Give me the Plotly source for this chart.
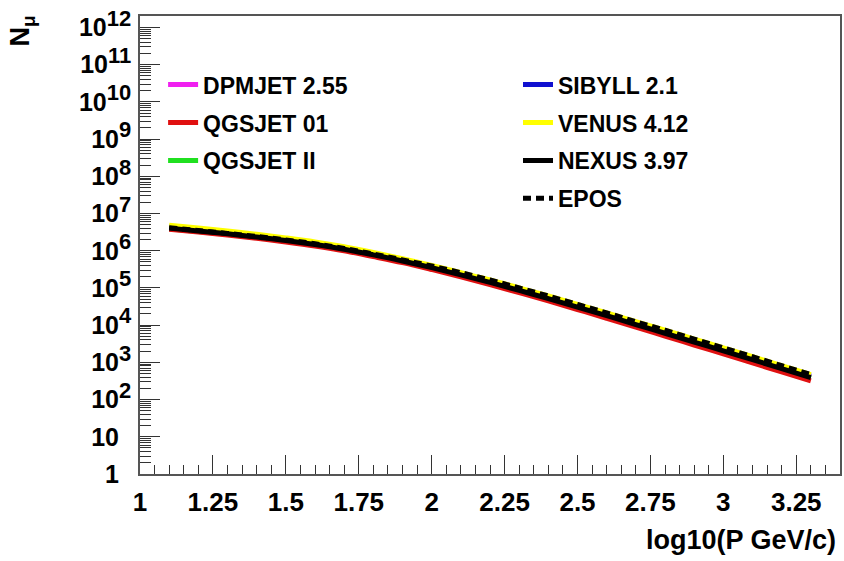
import plotly.graph_objects as go

# ---- data ----
log10_p = [1.1, 1.2, 1.3, 1.4, 1.5, 1.6, 1.7, 1.8, 1.9, 2.0, 2.1, 2.2,
           2.3, 2.4, 2.5, 2.6, 2.7, 2.8, 2.9, 3.0, 3.1, 3.2, 3.3]

dpmjet = [4.25e6, 3.58e6, 2.99e6, 2.45e6, 1.98e6, 1.54e6, 1.15e6, 8.10e5, 5.56e5, 3.67e5,
          2.36e5, 1.48e5, 9.01e4, 5.43e4, 3.21e4, 1.88e4, 1.09e4, 6.36e3, 3.69e3, 2.14e3,
          1.24e3, 711, 410]
qgsjet01 = [3.79e6, 3.19e6, 2.64e6, 2.16e6, 1.72e6, 1.34e6, 1.00e6, 6.98e5, 4.79e5, 3.13e5,
            2.00e5, 1.24e5, 7.50e4, 4.52e4, 2.64e4, 1.53e4, 8.85e3, 5.10e3, 2.93e3, 1.70e3,
            970, 552, 319]
qgsjetII = [3.92e6, 3.30e6, 2.76e6, 2.26e6, 1.83e6, 1.42e6, 1.06e6, 7.48e5, 5.13e5, 3.39e5,
            2.17e5, 1.36e5, 8.32e4, 5.01e4, 2.97e4, 1.74e4, 1.00e4, 5.86e3, 3.40e3, 1.97e3,
            1.14e3, 656, 379]
sibyll = [4.40e6, 3.71e6, 3.10e6, 2.54e6, 2.05e6, 1.59e6, 1.19e6, 8.39e5, 5.76e5, 3.80e5,
          2.44e5, 1.53e5, 9.33e4, 5.63e4, 3.33e4, 1.95e4, 1.13e4, 6.58e3, 3.82e3, 2.21e3,
          1.28e3, 736, 425]
venus = [4.88e6, 4.11e6, 3.40e6, 2.78e6, 2.22e6, 1.73e6, 1.28e6, 8.99e5, 6.10e5, 4.03e5,
         2.58e5, 1.64e5, 1.00e5, 6.10e4, 3.61e4, 2.14e4, 1.24e4, 7.30e3, 4.23e3, 2.45e3,
         1.42e3, 816, 471]
nexus = [4.06e6, 3.42e6, 2.86e6, 2.34e6, 1.89e6, 1.47e6, 1.10e6, 7.74e5, 5.31e5, 3.51e5,
         2.25e5, 1.41e5, 8.61e4, 5.19e4, 3.07e4, 1.80e4, 1.04e4, 6.07e3, 3.52e3, 2.04e3,
         1.18e3, 679, 392]
epos = [4.15e6, 3.50e6, 2.93e6, 2.42e6, 1.96e6, 1.54e6, 1.15e6, 8.20e5, 5.69e5, 3.89e5,
        2.58e5, 1.64e5, 1.00e5, 6.10e4, 3.61e4, 2.14e4, 1.24e4, 7.30e3, 4.23e3, 2.45e3,
        1.42e3, 816, 471]

x_tickvals = [1, 1.25, 1.5, 1.75, 2, 2.25, 2.5, 2.75, 3, 3.25]
x_ticktext = ["1", "1.25", "1.5", "1.75", "2", "2.25", "2.5", "2.75", "3", "3.25"]
y_tickvals = [1, 10, 1e2, 1e3, 1e4, 1e5, 1e6, 1e7, 1e8, 1e9, 1e10, 1e11, 1e12]
y_exponents = ["", "", "2", "3", "4", "5", "6", "7", "8", "9", "10", "11", "12"]
y_bases = ["1", "10", "10", "10", "10", "10", "10", "10", "10", "10", "10", "10", "10"]

SUP = '<sup><span style="font-size:22px">%s</span></sup>'
y_ticktext = [b + SUP % (e if e else "\u2007") for b, e in zip(y_bases, y_exponents)]

FONT = "Liberation Sans"

series = [
    # name, values, color, dash, legend, rank
    ("DPMJET 2.55", dpmjet, "#f020f0", "solid", "legend", 1),
    ("QGSJET II", qgsjetII, "#20e020", "solid", "legend", 3),
    ("SIBYLL 2.1", sibyll, "#1010d0", "solid", "legend2", 4),
    ("QGSJET 01", qgsjet01, "#e01010", "solid", "legend", 2),
    ("VENUS 4.12", venus, "#ffff00", "solid", "legend2", 5),
    ("NEXUS 3.97", nexus, "#000000", "solid", "legend2", 6),
    ("EPOS", epos, "#000000", "8px,5px", "legend2", 7),
]

fig = go.Figure()
for name, vals, color, dash, leg, rank in series:
    fig.add_trace(go.Scatter(
        x=log10_p, y=vals, mode="lines", name=name,
        line=dict(color=color, width=5, dash=dash, shape="spline"),
        legend=leg, legendgroup=name, legendrank=rank,
    ))

axis_line = dict(showline=True, linecolor="#555555", linewidth=1.5, mirror=True,
                 showgrid=False, zeroline=False)

fig.update_layout(
    width=844, height=561,
    margin=dict(l=140, r=2, t=16, b=87),
    plot_bgcolor="white", paper_bgcolor="white",
    showlegend=True,
    xaxis=dict(
        range=[1, 3.4], tickmode="array", tickvals=x_tickvals, ticktext=x_ticktext,
        ticks="inside", ticklen=19, tickwidth=1.2, tickcolor="#333333",
        minor=dict(tick0=1, dtick=0.05, ticks="inside", ticklen=9, tickwidth=1.2,
                   tickcolor="#333333"),
        tickfont=dict(family=FONT, size=26, color="black", weight="bold"),
        ticklabelstandoff=4,
        **axis_line,
    ),
    yaxis=dict(
        type="log", range=[0, 12.31], tickmode="array", tickvals=y_tickvals,
        ticktext=y_ticktext,
        ticks="inside", ticklen=20, tickwidth=1.2, tickcolor="#333333",
        minor=dict(dtick="D1", ticks="inside", ticklen=11, tickwidth=1,
                   tickcolor="#333333"),
        tickfont=dict(family=FONT, size=25, color="black", weight="bold"),
        ticklabelstandoff=2,
        **axis_line,
    ),
    legend=dict(
        x=0.033, y=0.897, xanchor="left", yanchor="top",
        bgcolor="rgba(0,0,0,0)", traceorder="grouped", tracegroupgap=5,
        font=dict(family=FONT, size=23, color="black", weight="bold"),
    ),
    legend2=dict(
        x=0.54, y=0.897, xanchor="left", yanchor="top",
        bgcolor="rgba(0,0,0,0)", traceorder="grouped", tracegroupgap=5,
        font=dict(family=FONT, size=23, color="black", weight="bold"),
    ),
    annotations=[
        dict(text="N<sub>\u03bc</sub>", xref="paper", yref="paper",
             x=-0.168, y=1.005, xanchor="center", yanchor="top", textangle=-90,
             showarrow=False,
             font=dict(family=FONT, size=27, color="black", weight="bold")),
        dict(text="log10(P GeV/c)", xref="paper", yref="paper",
             x=0.997, y=-0.144, xanchor="right", yanchor="middle",
             showarrow=False,
             font=dict(family=FONT, size=27, color="black", weight="bold")),
    ],
)

fig.write_html("out.html")
